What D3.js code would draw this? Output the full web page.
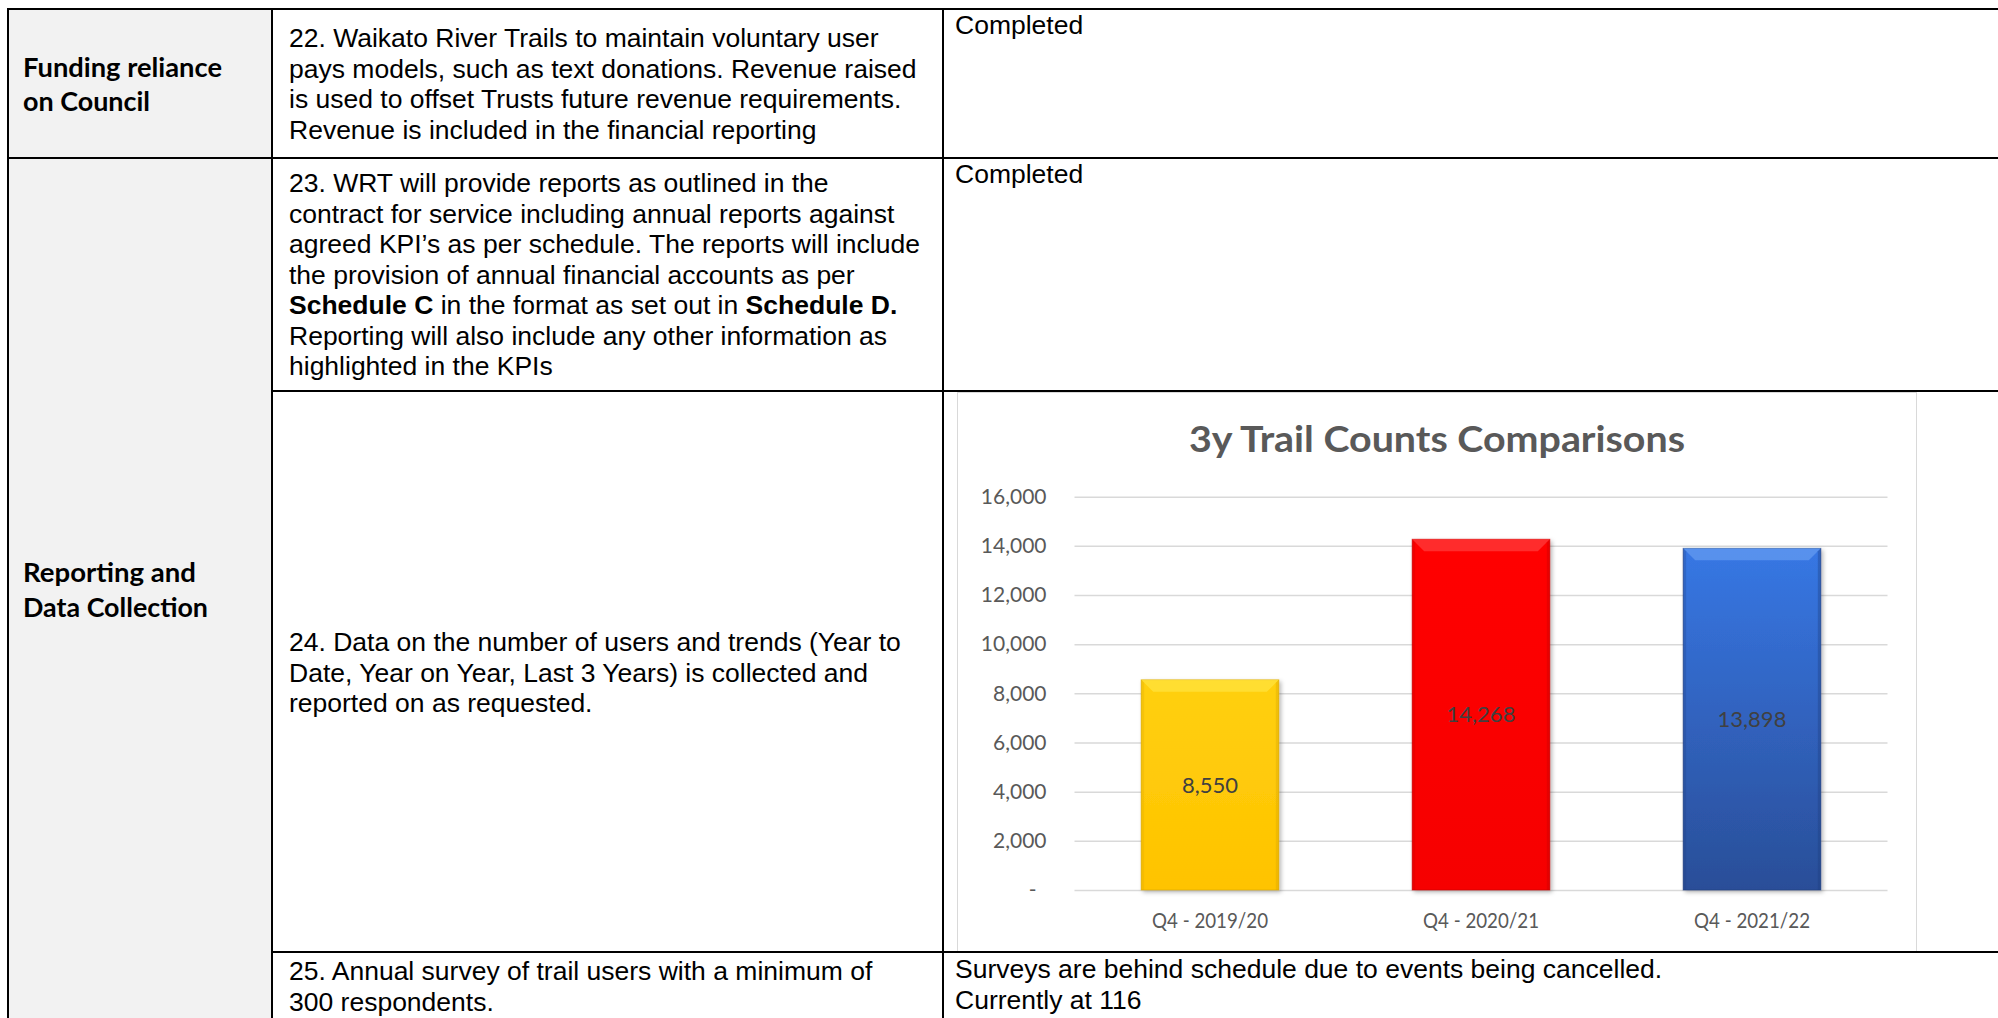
<!DOCTYPE html>
<html><head><meta charset="utf-8">
<script src="https://cdn.jsdelivr.net/npm/d3@7"></script>
<style>html,body{margin:0;padding:0;background:#fff;overflow:hidden}</style>
</head><body>
<svg id="c" width="1998" height="1018" xmlns="http://www.w3.org/2000/svg"></svg>
<script>
// ---------------- data ----------------
const categories = ["Q4 - 2019/20", "Q4 - 2020/21", "Q4 - 2021/22"];
const trailCounts = [8550, 14268, 13898];
const yTickValues = [0, 2000, 4000, 6000, 8000, 10000, 12000, 14000, 16000];
const yMax = 16000;
const chartTitle = "3y Trail Counts Comparisons";
const barColors = [
  {top: "#FFD00F", bottom: "#FFC300", bevel: "#FFE84A", edge: "#D6A400"},
  {top: "#FF0000", bottom: "#F60000", bevel: "#FF4A4A", edge: "#C40000"},
  {top: "#3777E4", bottom: "#2A4E98", bevel: "#6EA3F4", edge: "#1E3D7C"}
];

const areaLabels = [["Funding reliance", "on Council"], ["Reporting and", "Data Collection"]];
const kpi22 = [
  [["22. Waikato River Trails to maintain voluntary user", 0]],
  [["pays models, such as text donations. Revenue raised", 0]],
  [["is used to offset Trusts future revenue requirements.", 0]],
  [["Revenue is included in the financial reporting", 0]]
];
const kpi23 = [
  [["23. WRT will provide reports as outlined in the", 0]],
  [["contract for service including annual reports against", 0]],
  [["agreed KPI\u2019s as per schedule. The reports will include", 0]],
  [["the provision of annual financial accounts as per", 0]],
  [["Schedule C", 1], [" in the format as set out in ", 0], ["Schedule D.", 1]],
  [["Reporting will also include any other information as", 0]],
  [["highlighted in the KPIs", 0]]
];
const kpi24 = [
  [["24. Data on the number of users and trends (Year to", 0]],
  [["Date, Year on Year, Last 3 Years) is collected and", 0]],
  [["reported on as requested.", 0]]
];
const kpi25 = [
  [["25. Annual survey of trail users with a minimum of", 0]],
  [["300 respondents.", 0]]
];
const status22 = ["Completed"];
const status23 = ["Completed"];
const status25 = ["Surveys are behind schedule due to events being cancelled.", "Currently at 116"];

// ---------------- drawing ----------------
const svg = d3.select("#c");
const W = 1998, H = 1018;
const bodyFont = "'Liberation Sans', Arial, sans-serif";
const bodySize = 26.5, lineH = 30.5;
const chartFont = "Lato, 'Open Sans', sans-serif";

// column 1 background
svg.append("rect").attr("x", 9).attr("y", 10).attr("width", 262).attr("height", H - 10).attr("fill", "#F2F2F2");

function block(lines, x, firstBaseline) {
  lines.forEach((segs, i) => {
    const t = svg.append("text").attr("x", x).attr("y", firstBaseline + i * lineH)
      .attr("font-family", bodyFont).attr("font-size", bodySize).attr("fill", "#000");
    segs.forEach(s => t.append("tspan").text(s[0]).attr("font-weight", s[1] ? "bold" : "normal")
      .style("white-space", "pre"));
  });
}
function plain(lines) { return lines.map(l => [[l, 0]]); }

block(kpi22, 289, 47);
block(kpi23, 289, 192);
block(kpi24, 289, 651);
block(kpi25, 289, 980);
block(plain(status22), 955, 33.5);
block(plain(status23), 955, 182.5);
block(plain(status25), 955, 978);

// area labels (bold)
const areaBase = [[77, 111], [582, 617]];
const areaWidths = [[199, 127], [173, 185]];
areaLabels.forEach((lbl, j) => lbl.forEach((s, i) => {
  svg.append("text").attr("x", 23).attr("y", areaBase[j][i]).text(s)
    .attr("font-family", chartFont).attr("font-weight", "bold").attr("font-size", 26)
    .attr("textLength", areaWidths[j][i]).attr("lengthAdjust", "spacingAndGlyphs")
    .attr("fill", "#000");
}));

// ---------------- chart ----------------
const defs = svg.append("defs");
const f = defs.append("filter").attr("id", "sh").attr("x", "-10%").attr("y", "-10%").attr("width", "130%").attr("height", "130%");
f.append("feDropShadow").attr("dx", 2).attr("dy", 2).attr("stdDeviation", 2).attr("flood-color", "#000").attr("flood-opacity", 0.28);
barColors.forEach((c, i) => {
  const g = defs.append("linearGradient").attr("id", "g" + i).attr("x1", 0).attr("y1", 0).attr("x2", 0).attr("y2", 1);
  g.append("stop").attr("offset", "0%").attr("stop-color", c.top);
  g.append("stop").attr("offset", "100%").attr("stop-color", c.bottom);
});

svg.append("rect").attr("x", 957.5).attr("y", 392.5).attr("width", 959).attr("height", 559)
  .attr("fill", "#fff").attr("stroke", "#D9D9D9").attr("stroke-width", 1);

const px0 = 1074.5, px1 = 1887.5;
const y = d3.scaleLinear().domain([0, yMax]).range([890, 496.7]);
const x = d3.scaleBand().domain(categories).range([px0, px1]).paddingInner(0.492).paddingOuter(0.246);

const gY = svg.append("g").attr("transform", `translate(${px0},0)`)
  .call(d3.axisLeft(y).tickValues(yTickValues).tickSize(-(px1 - px0)).tickPadding(28)
    .tickFormat(d => d === 0 ? "-" : d3.format(",")(d)));
gY.select(".domain").remove();
gY.selectAll(".tick line").attr("stroke", "#D9D9D9").attr("stroke-width", 1.5);
gY.selectAll(".tick text").attr("fill", "#595959").attr("font-family", chartFont).attr("font-size", 21)
  .attr("dx", d => d === 0 ? -10 : 0);

const bars = svg.append("g");
categories.forEach((cat, i) => {
  const v = trailCounts[i], c = barColors[i];
  const bx = x(cat), bw = x.bandwidth(), by = y(v), bh = y(0) - y(v), b = 12;
  const g = bars.append("g");
  g.append("rect").attr("x", bx).attr("y", by).attr("width", bw).attr("height", bh)
    .attr("fill", `url(#g${i})`).attr("stroke", c.edge).attr("stroke-width", 1).attr("stroke-opacity", 0.6)
    .attr("filter", "url(#sh)");
  g.append("polygon").attr("points", [[bx, by], [bx + bw, by], [bx + bw - b, by + b], [bx + b, by + b]].map(p => p.join(",")).join(" "))
    .attr("fill", c.bevel).attr("opacity", 0.6);
  g.append("polygon").attr("points", [[bx, by], [bx + 3, by + 3], [bx + 3, by + bh], [bx, by + bh]].map(p => p.join(",")).join(" "))
    .attr("fill", c.edge).attr("opacity", 0.25);
  g.append("polygon").attr("points", [[bx + bw, by], [bx + bw - 3, by + 3], [bx + bw - 3, by + bh], [bx + bw, by + bh]].map(p => p.join(",")).join(" "))
    .attr("fill", c.edge).attr("opacity", 0.35);
  g.append("text").attr("x", bx + bw / 2).attr("y", (y(v) + y(0)) / 2).attr("dy", "0.35em")
    .attr("text-anchor", "middle").attr("font-family", chartFont).attr("font-size", 22)
    .attr("fill", "#404040").text(d3.format(",")(v));
});

const gX = svg.append("g").attr("transform", `translate(0,${y(0)})`)
  .call(d3.axisBottom(x).tickSize(0).tickPadding(23));
gX.select(".domain").remove();
gX.selectAll(".tick text").attr("fill", "#595959").attr("font-family", chartFont).attr("font-size", 21)
  .attr("textLength", 116).attr("lengthAdjust", "spacingAndGlyphs");

svg.append("text").attr("x", 1437).attr("y", 451.5).attr("text-anchor", "middle")
  .attr("font-family", chartFont).attr("font-weight", "bold").attr("font-size", 37)
  .attr("textLength", 496).attr("lengthAdjust", "spacingAndGlyphs")
  .attr("fill", "#595959").text(chartTitle);

// ---------------- table borders ----------------
const lines = [
  [7, 9, W, 9], [8, 8, 8, H], [272, 8, 272, H], [943, 8, 943, H],
  [7, 158, W, 158], [271, 391, W, 391], [271, 952, W, 952]
];
svg.append("g").selectAll("line").data(lines).join("line")
  .attr("x1", d => d[0]).attr("y1", d => d[1]).attr("x2", d => d[2]).attr("y2", d => d[3])
  .attr("stroke", "#000").attr("stroke-width", 2);
</script>
</body></html>
